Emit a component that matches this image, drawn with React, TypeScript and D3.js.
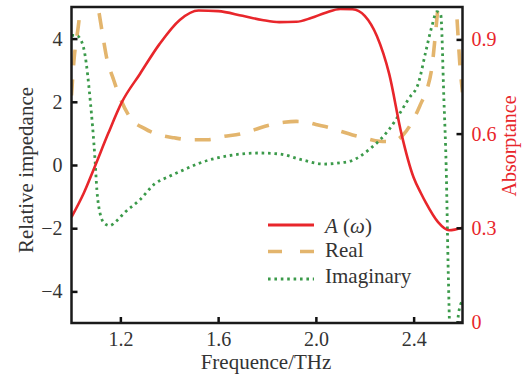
import React, { useEffect, useRef } from "react";
import * as d3 from "d3";

// absorptance A(w), right axis
const absFreq = [1.0, 1.05, 1.096, 1.15, 1.206, 1.28, 1.36, 1.443, 1.52, 1.6, 1.7, 1.78, 1.85, 1.92, 1.98, 2.04, 2.1, 2.15, 2.2, 2.25, 2.3, 2.35, 2.4, 2.43, 2.45, 2.5, 2.545, 2.6];
const absValues = [0.334, 0.41, 0.496, 0.6, 0.7, 0.79, 0.885, 0.962, 0.992, 0.99, 0.975, 0.962, 0.955, 0.956, 0.968, 0.985, 0.997, 0.996, 0.975, 0.91, 0.79, 0.6, 0.46, 0.41, 0.38, 0.318, 0.292, 0.3];

// real part of relative impedance, left axis
const realFreq = [1.0, 1.01, 1.028, 1.045, 1.07, 1.095, 1.112, 1.13, 1.145, 1.17, 1.2, 1.24, 1.3, 1.36, 1.42, 1.49, 1.56, 1.62, 1.69, 1.75, 1.81, 1.87, 1.92, 1.96, 2.0, 2.055, 2.1, 2.15, 2.2, 2.26, 2.31, 2.36, 2.4, 2.43, 2.455, 2.475, 2.49, 2.505, 2.53, 2.555, 2.575, 2.59, 2.6];
const realValues = [2.2, 3.3, 4.4, 5.5, 6.3, 5.6, 4.85, 4.0, 3.35, 2.75, 2.1, 1.5, 1.15, 0.95, 0.86, 0.8, 0.8, 0.9, 0.98, 1.12, 1.26, 1.35, 1.38, 1.36, 1.28, 1.18, 1.07, 0.95, 0.85, 0.75, 0.74, 0.98, 1.45, 1.95, 2.4, 3.1, 4.2, 5.4, 6.3, 6.2, 4.9, 3.1, 2.3];

// imaginary part of relative impedance, left axis
const imagFreq = [1.0, 1.02, 1.035, 1.055, 1.076, 1.096, 1.104, 1.116, 1.135, 1.157, 1.18, 1.218, 1.28, 1.34, 1.4, 1.46, 1.52, 1.647, 1.77, 1.85, 1.945, 2.03, 2.1, 2.14, 2.22, 2.3, 2.38, 2.42, 2.45, 2.475, 2.495, 2.511, 2.524, 2.533, 2.542, 2.55, 2.565, 2.575, 2.586, 2.6];
const imagValues = [4.1, 4.1, 4.0, 3.5, 2.1, 0.2, -0.8, -1.5, -1.85, -1.92, -1.8, -1.5, -1.1, -0.6, -0.36, -0.15, 0.05, 0.3, 0.38, 0.35, 0.16, 0.03, 0.07, 0.12, 0.5, 1.13, 2.1, 2.6, 3.6, 4.4, 4.85, 4.75, 2.05, 0.0, -3.5, -5.6, -6.0, -5.3, -4.6, -4.3];

const xTicks = [1.2, 1.6, 2.0, 2.4];
const leftTicks = [-4, -2, 0, 2, 4];
const rightTicks = [0, 0.3, 0.6, 0.9];

const RED = "#e8262b";
const TAN = "#e3b56d";
const GREEN = "#3b9a4a";
const FONT = "'Liberation Serif', 'Times New Roman', serif";

const App = () => {
  const svgRef = useRef<SVGSVGElement>(null);

  useEffect(() => {
    const w = 522;
    const h = 378;
    const left = 71.5;
    const right = 462.5;
    const top = 7;
    const bottom = 323;

    const svg = d3.select(svgRef.current).attr("width", w).attr("height", h);
    svg.selectAll("*").remove();

    const x = d3.scaleLinear().domain([1.0, 2.6]).range([left, right]);
    const yL = d3.scaleLinear().domain([-5, 5]).range([bottom, top]);
    const yR = d3.scaleLinear().domain([0, 1]).range([322, 8]);

    svg
      .append("defs")
      .append("clipPath")
      .attr("id", "plot-clip")
      .append("rect")
      .attr("x", left)
      .attr("y", top)
      .attr("width", right - left)
      .attr("height", bottom - top);

    const plot = svg.append("g").attr("clip-path", "url(#plot-clip)");

    const lineL = d3
      .line<[number, number]>()
      .x((d) => x(d[0]))
      .y((d) => yL(d[1]))
      .curve(d3.curveMonotoneX);
    const lineR = d3
      .line<[number, number]>()
      .x((d) => x(d[0]))
      .y((d) => yR(d[1]))
      .curve(d3.curveMonotoneX);

    const realData = realFreq.map((f, i) => [f, realValues[i]] as [number, number]);
    const imagData = imagFreq.map((f, i) => [f, imagValues[i]] as [number, number]);
    const absData = absFreq.map((f, i) => [f, absValues[i]] as [number, number]);

    plot
      .append("path")
      .attr("d", lineL(realData))
      .attr("fill", "none")
      .attr("stroke", TAN)
      .attr("stroke-width", 3.6)
      .attr("stroke-dasharray", "16 14");

    plot
      .append("path")
      .attr("d", lineL(imagData))
      .attr("fill", "none")
      .attr("stroke", GREEN)
      .attr("stroke-width", 2.8)
      .attr("stroke-dasharray", "2.6 3.8");

    plot
      .append("path")
      .attr("d", lineR(absData))
      .attr("fill", "none")
      .attr("stroke", RED)
      .attr("stroke-width", 2.6);

    // axes
    const styleAxis = (g, color) => {
      g.select(".domain").remove();
      g.selectAll("line").attr("stroke", "#111").attr("stroke-width", 2.5);
      g.selectAll("text")
        .attr("fill", color)
        .style("font-family", FONT)
        .style("font-size", "20px");
    };

    svg
      .append("g")
      .attr("transform", `translate(${left},0)`)
      .call(d3.axisLeft(yL).tickValues(leftTicks).tickSize(-6).tickPadding(9))
      .call((g) => styleAxis(g, "#333"));

    svg
      .append("g")
      .attr("transform", `translate(0,${bottom})`)
      .call(
        d3
          .axisBottom(x)
          .tickValues(xTicks)
          .tickFormat(d3.format(".1f"))
          .tickSize(-6)
          .tickPadding(9)
      )
      .call((g) => styleAxis(g, "#333"));

    svg
      .append("g")
      .attr("transform", `translate(${right},0)`)
      .call(
        d3
          .axisRight(yR)
          .tickValues(rightTicks)
          .tickFormat((d) => (d === 0 ? "0" : d3.format(".1f")(d)))
          .tickSize(-6)
          .tickPadding(9)
      )
      .call((g) => styleAxis(g, RED));

    // frame
    svg
      .append("rect")
      .attr("x", left)
      .attr("y", top)
      .attr("width", right - left)
      .attr("height", bottom - top)
      .attr("fill", "none")
      .attr("stroke", "#1a1a1a")
      .attr("stroke-width", 2.5);

    // axis titles
    svg
      .append("text")
      .attr("transform", "translate(33,170) rotate(-90)")
      .attr("text-anchor", "middle")
      .attr("fill", "#333")
      .style("font-family", FONT)
      .style("font-size", "21px")
      .text("Relative impedance");

    svg
      .append("text")
      .attr("transform", "translate(516,146) rotate(-90)")
      .attr("text-anchor", "middle")
      .attr("fill", RED)
      .style("font-family", FONT)
      .style("font-size", "20px")
      .text("Absorptance");

    svg
      .append("text")
      .attr("x", 266)
      .attr("y", 369)
      .attr("text-anchor", "middle")
      .attr("fill", "#333")
      .style("font-family", FONT)
      .style("font-size", "21px")
      .text("Frequence/THz");

    // legend
    const legend = svg.append("g").style("font-family", FONT).style("font-size", "21px");
    const rows = [
      { color: RED, dash: null, width: 2.8, y: 225 },
      { color: TAN, dash: "14 18", width: 3.6, y: 251.5 },
      { color: GREEN, dash: "2.6 3.8", width: 2.8, y: 279 },
    ];
    rows.forEach((r) => {
      legend
        .append("line")
        .attr("x1", 268)
        .attr("x2", 314)
        .attr("y1", r.y)
        .attr("y2", r.y)
        .attr("stroke", r.color)
        .attr("stroke-width", r.width)
        .attr("stroke-dasharray", r.dash);
    });

    const t1 = legend.append("text").attr("x", 325).attr("y", 233).attr("fill", "#333");
    t1.append("tspan").style("font-style", "italic").text("A");
    t1.append("tspan").text(" (");
    t1.append("tspan").style("font-style", "italic").text("ω");
    t1.append("tspan").text(")");

    legend.append("text").attr("x", 325).attr("y", 257).attr("fill", "#333").text("Real");
    legend.append("text").attr("x", 325).attr("y", 283).attr("fill", "#333").text("Imaginary");
  }, []);

  return (
    <div>
      <svg ref={svgRef} style={{ position: "absolute", left: 0, top: 0 }}></svg>
    </div>
  );
};

export default App;
